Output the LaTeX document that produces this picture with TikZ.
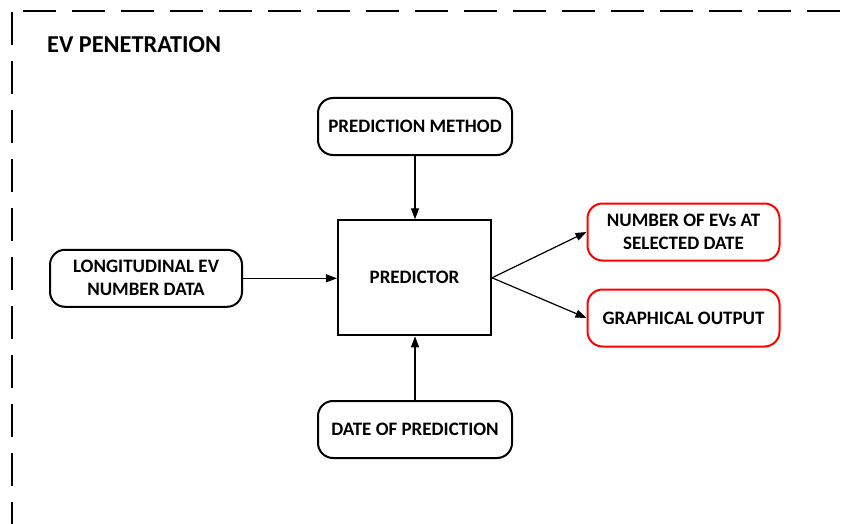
\documentclass[tikz,border=0pt]{standalone}
\usepackage{fontspec}
\setmainfont{Carlito}
\usetikzlibrary{arrows.meta}
\begin{document}
\begin{tikzpicture}[x=1pt,y=-1pt,
  box/.style={draw=black,line width=2pt,rounded corners=15pt,minimum width=192pt,minimum height=57pt,align=center,font=\bfseries\fontsize{19}{23}\selectfont,inner sep=0pt},
  outbox/.style={box,draw=red},
  core/.style={draw=black,line width=2pt,minimum width=153pt,minimum height=115pt,font=\bfseries\fontsize{19}{23}\selectfont,inner sep=0pt},
  conn/.style={line width=1.2pt,-{Triangle[length=11pt,width=8pt]}},
  frame/.style={line width=2pt,dash pattern=on 33pt off 16pt}]
\useasboundingbox (0,0) rectangle (845,524);
\coordinate (ftop) at (23,11);
\coordinate (ftopend) at (845,11);
\coordinate (fleft) at (12,12);
\coordinate (fleftend) at (12,524);
\draw[frame] (ftop) -- (ftopend);
\draw[frame] (fleft) -- (fleftend);
\node[anchor=west,font=\bfseries\fontsize{24.3}{28}\selectfont,inner sep=0pt] (title) at (47,45) {EV PENETRATION};
\node[box,minimum width=194pt] (method) at (415,126.5) {PREDICTION METHOD};
\node[core] (pred) at (414.5,277.8) {PREDICTOR};
\node[box] (longi) at (146,278.3) {LONGITUDINAL EV\\NUMBER DATA};
\node[box,minimum width=194pt] (date) at (415,429.5) {DATE OF PREDICTION};
\node[outbox] (num) at (683.5,232) {NUMBER OF EVs AT\\SELECTED DATE};
\node[outbox] (graph) at (683.5,318) {GRAPHICAL OUTPUT};
\draw[conn] (method.south) -- (pred.north -| method.south);
\draw[conn] (date.north) -- (pred.south -| date.north);
\draw[conn] (longi.east) -- (pred.west |- longi.east);
\draw[conn] (pred.east) -- (num.west);
\draw[conn] (pred.east) -- (graph.west);
\end{tikzpicture}
\end{document}
